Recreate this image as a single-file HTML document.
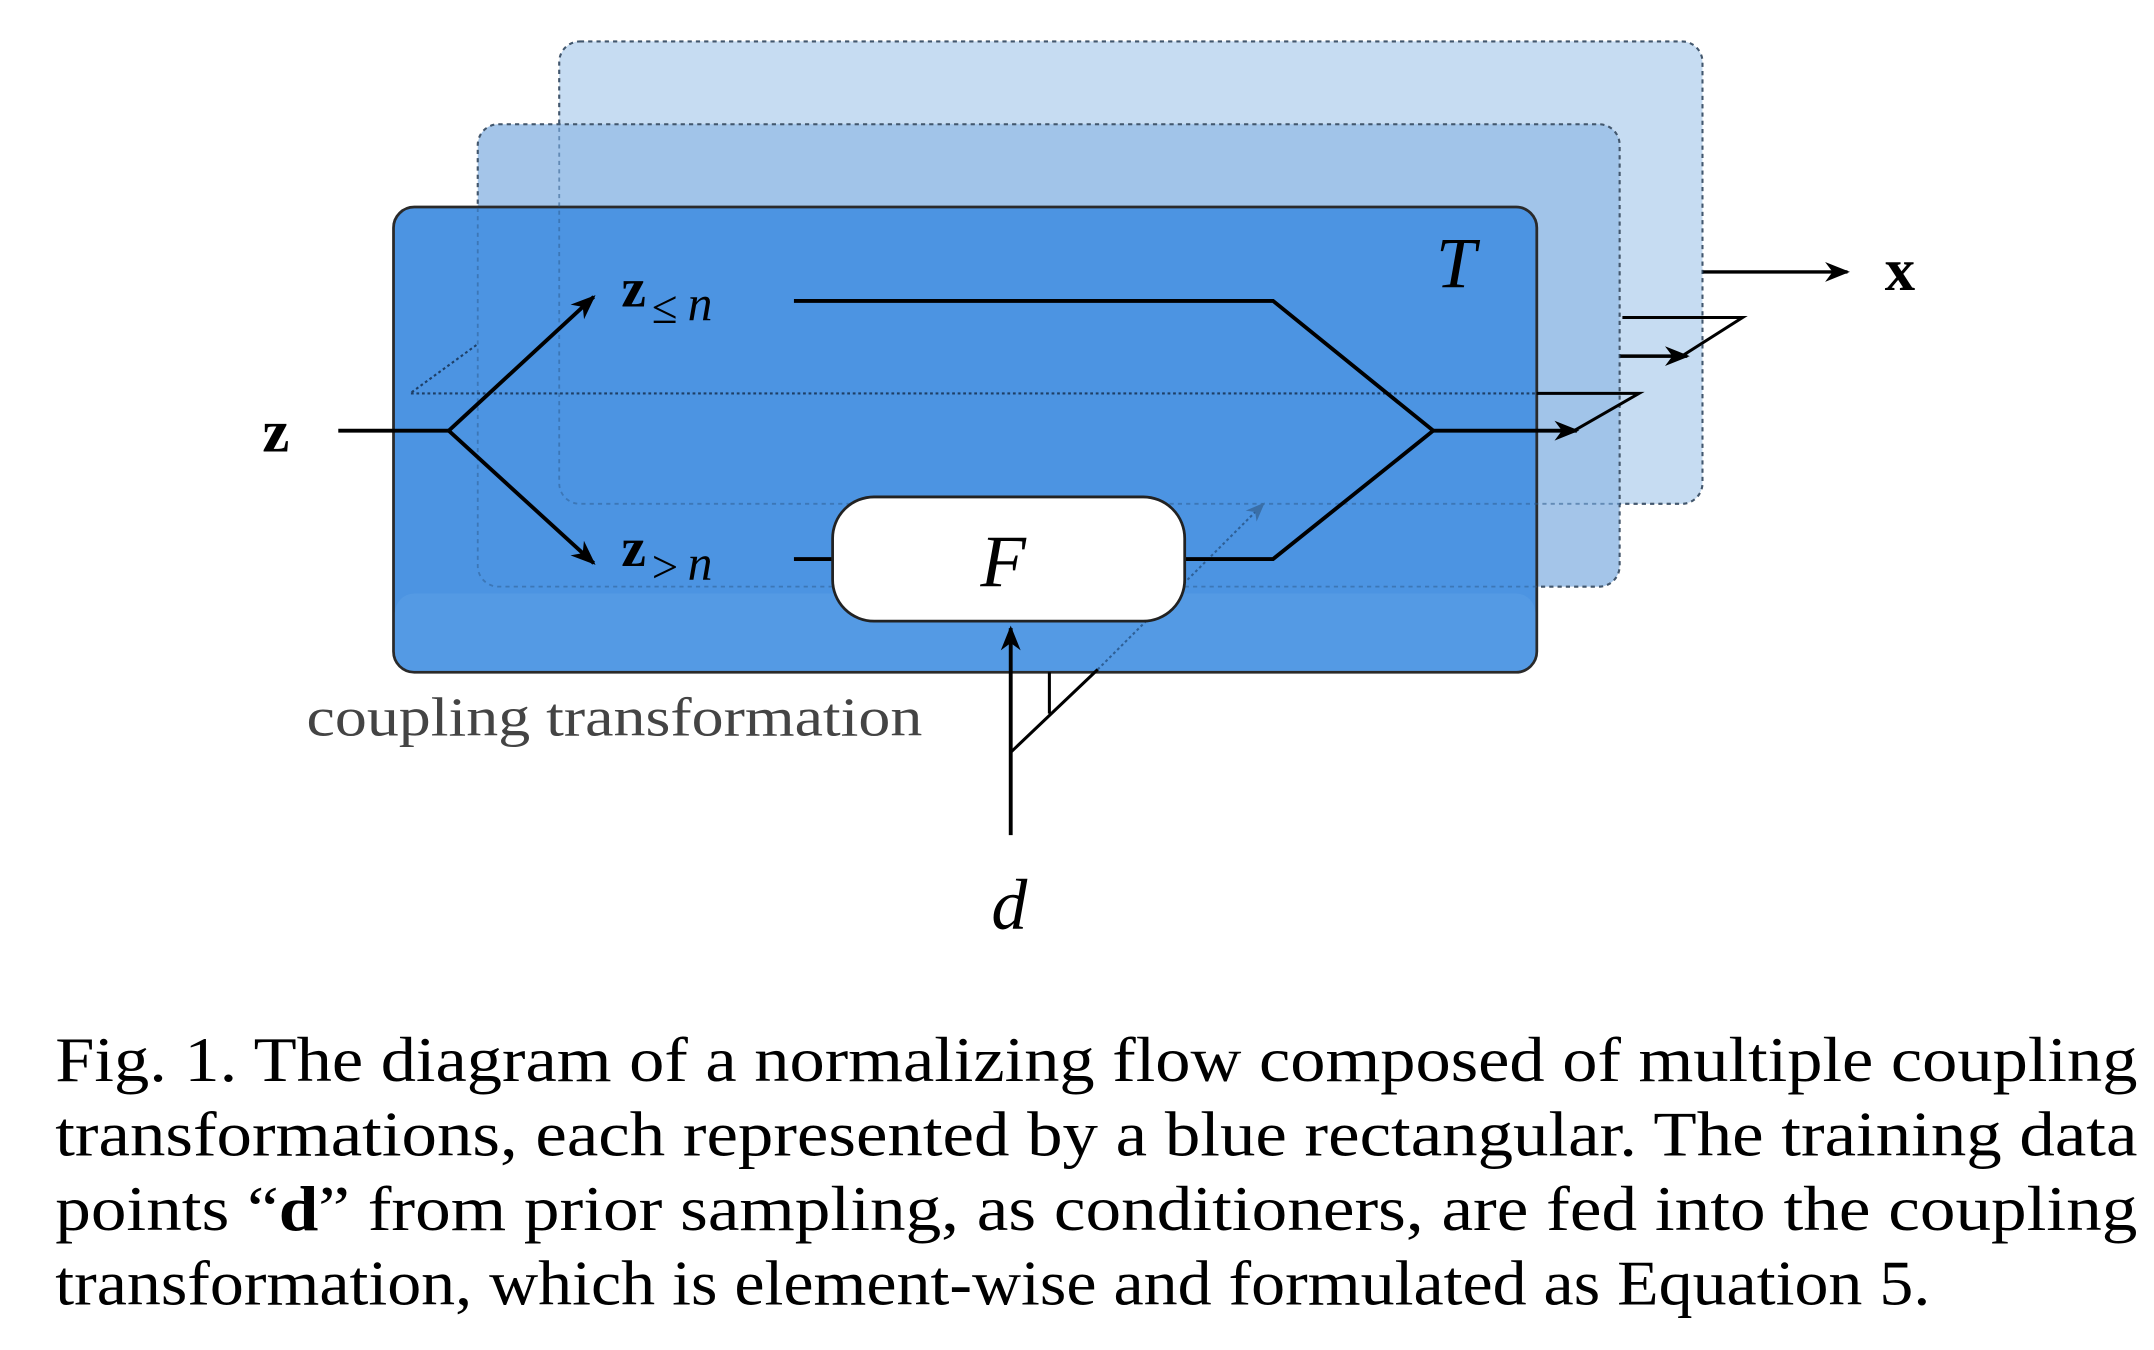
<!DOCTYPE html>
<html><head><style>html,body{margin:0;padding:0;background:#fff;}svg{display:block}</style></head>
<body>
<svg width="2154" height="1350" viewBox="0 0 1560 978" preserveAspectRatio="none" xmlns="http://www.w3.org/2000/svg">
<defs>
<marker id="ah2" viewBox="0 0 10 10" refX="9" refY="5" markerWidth="18" markerHeight="18" orient="auto" markerUnits="userSpaceOnUse"><path d="M0,1 L10,5 L0,9 L3,5 Z" fill="#000"/></marker>
<marker id="ahb" viewBox="0 0 10 10" refX="9" refY="5" markerWidth="14" markerHeight="14" orient="auto" markerUnits="userSpaceOnUse"><path d="M0,1 L10,5 L0,9 L3,5 Z" fill="#3a6fa8"/></marker>
</defs>
<rect x="405" y="30" width="828" height="335" rx="15" fill="#c6dcf2" stroke="#555" stroke-width="1.5" stroke-dasharray="3,3"/>
<rect x="346" y="90" width="827" height="335" rx="15" fill="#9fc2e8" fill-opacity="0.95" stroke="#555" stroke-width="1.5" stroke-dasharray="3,3"/>
<path d="M1233,197 L1338,197" stroke="#000" stroke-width="2.5" marker-end="url(#ah2)"/>
<path d="M1175,230 L1262,230 L1218,258 L1173,258" stroke="#000" stroke-width="2.2" fill="none"/>
<path d="M1173,258 L1222,258" stroke="#000" stroke-width="2.5" marker-end="url(#ah2)"/>
<rect x="285" y="150" width="828" height="337" rx="15" fill="#4c94e2" stroke="#2a2a2a" stroke-width="2"/>
<rect x="286" y="430" width="826" height="56" rx="14" fill="#5ba0e6" opacity="0.5"/>
<rect x="405" y="30" width="828" height="335" rx="15" fill="none" stroke="#2b5a8c" stroke-opacity="0.5" stroke-width="1.3" stroke-dasharray="3,3"/>
<rect x="346" y="90" width="827" height="335" rx="15" fill="none" stroke="#2b5a8c" stroke-opacity="0.5" stroke-width="1.3" stroke-dasharray="3,3"/>
<path d="M345,250 L297,285 L1113,285" stroke="#1e3f66" stroke-width="1.5" stroke-dasharray="2,2" fill="none"/>
<path d="M795,485 L915,365" stroke="#2e5f95" stroke-width="1.5" stroke-dasharray="2,2" fill="none" marker-end="url(#ahb)"/>
<path d="M245,312 L325,312" stroke="#000" stroke-width="2.8" fill="none"/>
<path d="M325,312 L430,215" stroke="#000" stroke-width="2.8" fill="none" marker-end="url(#ah2)"/>
<path d="M325,312 L430,408" stroke="#000" stroke-width="2.8" fill="none" marker-end="url(#ah2)"/>
<path d="M575,218 L922,218 L1038,312 L922,405 L858,405" stroke="#000" stroke-width="2.8" fill="none"/>
<path d="M575,405 L603,405" stroke="#000" stroke-width="2.8"/>
<path d="M1038,312 L1142,312" stroke="#000" stroke-width="2.8" marker-end="url(#ah2)"/>
<path d="M1113,285 L1187,285 L1140,312" stroke="#000" stroke-width="2.2" fill="none"/>
<rect x="603" y="360" width="255" height="90" rx="30" fill="#fff" stroke="#222" stroke-width="2"/>
<path d="M732,605 L732,455" stroke="#000" stroke-width="2.8" marker-end="url(#ah2)"/>
<path d="M732,545 L795,485 M760,517 L760,487" stroke="#000" stroke-width="2.2" fill="none"/>
<g font-family="Liberation Serif, serif" fill="#000">
<text x="190" y="327" font-size="44" font-weight="bold">z</text>
<text x="450" y="222" font-size="40" font-weight="bold">z</text>
<text x="472" y="234" font-size="34">≤</text><text x="498" y="232" font-size="36" font-style="italic">n</text>
<text x="450" y="410" font-size="40" font-weight="bold">z</text>
<text x="472" y="422" font-size="34">&gt;</text><text x="498" y="420" font-size="36" font-style="italic">n</text>
<text x="1040" y="208" font-size="52" font-style="italic">T</text>
<text x="710" y="425" font-size="54" font-style="italic">F</text>
<text x="1365" y="210" font-size="44" font-weight="bold">x</text>
<text x="718" y="673" font-size="52" font-style="italic">d</text>
<text x="222" y="533" font-size="40" fill="#444" textLength="446" lengthAdjust="spacingAndGlyphs">coupling transformation</text>
<g font-size="46">
<text x="40" y="783" textLength="1508" lengthAdjust="spacingAndGlyphs">Fig. 1.  The diagram of a normalizing flow composed of multiple coupling</text>
<text x="40" y="837" textLength="1508" lengthAdjust="spacingAndGlyphs">transformations, each represented by a blue rectangular. The training data</text>
<text x="40" y="891" textLength="1508" lengthAdjust="spacingAndGlyphs">points “<tspan font-weight="bold">d</tspan>” from prior sampling, as conditioners, are fed into the coupling</text>
<text x="40" y="945" textLength="1358" lengthAdjust="spacingAndGlyphs">transformation, which is element-wise and formulated as Equation 5.</text>
</g>
</g>
</svg>
</body></html>
